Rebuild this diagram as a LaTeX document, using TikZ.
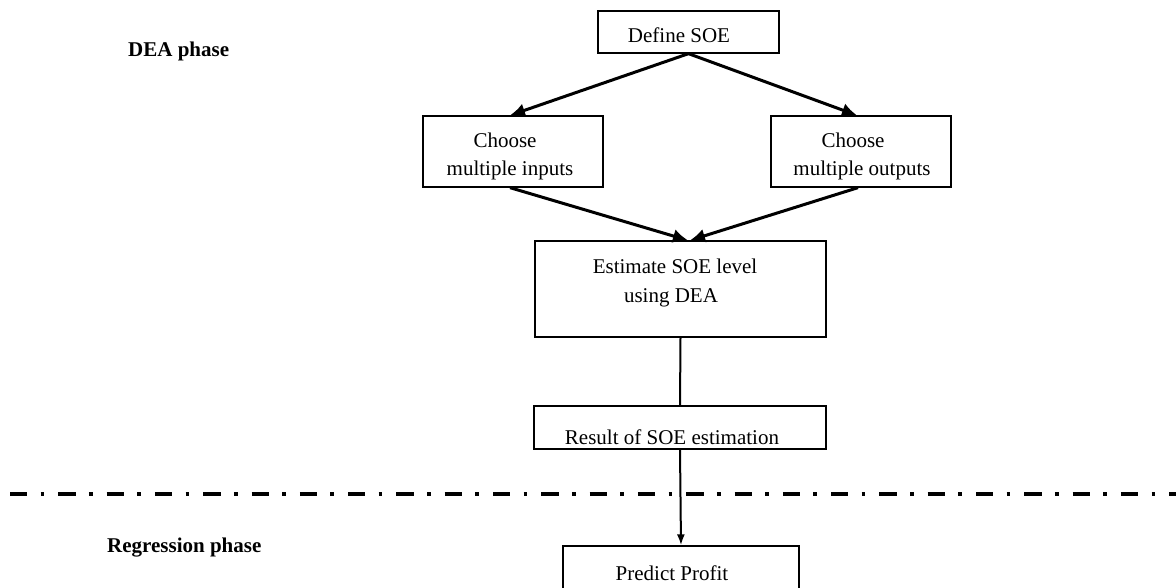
\documentclass[tikz,border=0pt]{standalone}
\usepackage{fontspec}
\setmainfont{Liberation Serif}
\usetikzlibrary{arrows.meta}
\begin{document}
\begin{tikzpicture}[x=1pt,y=-1pt,
  box/.style={draw, line width=1.3pt, inner sep=0pt, rectangle},
  txt/.style={anchor=base, inner sep=0pt, font=\fontsize{21}{25}\selectfont},
  phase/.style={anchor=base west, inner sep=0pt, font=\fontsize{21}{25}\selectfont\bfseries},
  thickarr/.style={line width=3pt, -{Latex[length=15pt,width=14pt]}},
  vline/.style={line width=2pt},
  varr/.style={line width=2pt, -{Latex[length=11pt,width=8pt]}},
  sep/.style={line width=4pt, dash pattern=on 17.3pt off 13.3pt on 3.7pt off 14pt}
]
\useasboundingbox (0,0) rectangle (1176,587);
\clip (0,0) rectangle (1176,587);

% boxes
\node[box, minimum width=181pt, minimum height=42pt] (def) at (688.5,32) {};
\node[box, minimum width=180pt, minimum height=71pt] (inp) at (513,151.5) {};
\node[box, minimum width=180pt, minimum height=71pt] (out) at (861,151.5) {};
\node[box, minimum width=291pt, minimum height=96pt] (est) at (680.5,289) {};
\node[box, minimum width=292pt, minimum height=43pt] (res) at (680,427.5) {};
\node[box, minimum width=236pt, minimum height=54pt] (pre) at (681,573) {};

% texts
\node[txt] (tdef) at (679,42) {Define SOE};
\node[txt] (tinp1) at (505,147) {Choose};
\node[txt] (tinp2) at (510,175) {multiple inputs};
\node[txt] (tout1) at (853,147) {Choose};
\node[txt] (tout2) at (862,175) {multiple outputs};
\node[txt] (test1) at (675,273) {Estimate SOE level};
\node[txt] (test2) at (671,302) {using DEA};
\node[txt] (tres) at (672,444) {Result of SOE estimation};
\node[txt] (tpre) at (672,580) {Predict Profit};

\node[phase] (dea) at (128,56) {DEA phase};
\node[phase] (reg) at (107,552) {Regression phase};

% separator
\coordinate (sepL) at (10,494);
\coordinate (sepR) at (1176,494);
\draw[sep] (sepL) -- (sepR);

% connectors
\draw[thickarr] (def.south) -- ([xshift=-3pt]inp.north);
\draw[thickarr] (def.south) -- ([xshift=-4pt]out.north);
\draw[thickarr] ([xshift=-3pt]inp.south) -- ([xshift=7.5pt]est.north);
\draw[thickarr] ([xshift=-3pt]out.south) -- ([xshift=9.5pt]est.north);
\draw[vline] (est.south) -- (res.north);
\draw[varr] (res.south) -- (pre.north);
\end{tikzpicture}
\end{document}
